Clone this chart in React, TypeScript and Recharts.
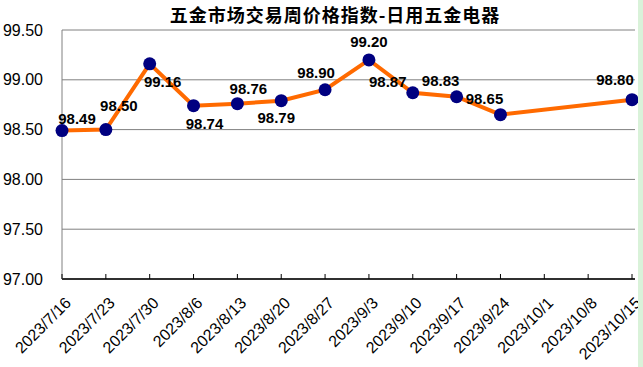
import {
  LineChart,
  Line,
  XAxis,
  YAxis,
  CartesianGrid,
  LabelList,
} from "recharts";

const title = "五金市场交易周价格指数-日用五金电器";

const weeks = [
  "2023/7/16",
  "2023/7/23",
  "2023/7/30",
  "2023/8/6",
  "2023/8/13",
  "2023/8/20",
  "2023/8/27",
  "2023/9/3",
  "2023/9/10",
  "2023/9/17",
  "2023/9/24",
  "2023/10/1",
  "2023/10/8",
  "2023/10/15",
];

const priceIndex: (number | null)[] = [
  98.49, 98.5, 99.16, 98.74, 98.76, 98.79, 98.9, 99.2, 98.87, 98.83, 98.65,
  null, null, 98.8,
];

const yTicks = [97, 97.5, 98, 98.5, 99, 99.5];

// where each value label sits relative to its point
const labelDx = [15, 13, 13, 11, 11, -5, -9, 0, -25, -16, -16, 0, 0, -17];
const labelDy = [-12, -24, 18, 18, -15, 17, -17, -18, -11, -16, -16, 0, 0, -20];

const data = weeks.map((w, i) => ({ week: w, value: priceIndex[i] }));

const DateTick = (props: any) => {
  const { x, y, payload } = props;
  const ax = x + 10;
  const ay = y + 25;
  return (
    <g>
      <line x1={x} y1={y - 5} x2={x} y2={y} stroke="#000" />
      <text
        x={ax}
        y={ay}
        transform={`rotate(-45 ${ax} ${ay})`}
        textAnchor="end"
        fontSize={16}
        fontFamily="Liberation Sans, Arial, sans-serif"
        fill="#000"
      >
        {payload.value}
      </text>
    </g>
  );
};

const ValueLabel = (props: any) => {
  const { x, y, value, index } = props;
  if (value == null) return null;
  return (
    <text
      x={x + labelDx[index]}
      y={y + labelDy[index]}
      textAnchor="middle"
      dominantBaseline="central"
      fontSize={15}
      fontWeight="bold"
      fontFamily="Liberation Sans, Arial, sans-serif"
      fill="#000"
    >
      {Number(value).toFixed(2)}
    </text>
  );
};

export default function App() {
  return (
    <div
      style={{
        position: "absolute",
        left: 0,
        top: 0,
        width: 643,
        height: 367,
        background: "#d9f2d9",
      }}
    >
      <div
        style={{
          position: "absolute",
          left: 0,
          top: 0,
          width: 638,
          height: 367,
          background: "#fff",
        }}
      />
      <div
        style={{
          position: "absolute",
          left: 0,
          top: 3,
          width: 670,
          textAlign: "center",
          fontFamily: "Noto Sans CJK SC, sans-serif",
          fontWeight: "bold",
          fontSize: 18,
          letterSpacing: 1,
          lineHeight: "22px",
          color: "#000",
        }}
      >
        {title}
      </div>
      <div style={{ position: "absolute", left: 0, top: 0 }}>
        <LineChart
          width={638}
          height={367}
          data={data}
          margin={{ top: 30, right: 3, bottom: 8, left: 0 }}
        >
          <CartesianGrid vertical={false} stroke="#808080" strokeWidth={1} />
          <XAxis
            dataKey="week"
            interval={0}
            height={80}
            tickSize={0}
            tickMargin={0}
            tick={<DateTick />}
            axisLine={{ stroke: "#000", strokeWidth: 1.5 }}
            padding={{ left: 0, right: 3 }}
          />
          <YAxis
            domain={[97, 99.5]}
            ticks={yTicks}
            width={62}
            tickLine={false}
            tickMargin={13}
            axisLine={{ stroke: "#808080" }}
            tickFormatter={(v: number) => v.toFixed(2)}
            tick={{
              fill: "#000",
              fontSize: 16,
              fontFamily: "Liberation Sans, Arial, sans-serif",
            }}
          />
          <Line
            type="linear"
            dataKey="value"
            stroke="#ff6a00"
            strokeWidth={4}
            connectNulls
            dot={{ r: 6.5, fill: "#000080", stroke: "#000080", strokeWidth: 0 }}
            isAnimationActive={false}
          >
            <LabelList dataKey="value" content={<ValueLabel />} />
          </Line>
        </LineChart>
      </div>
    </div>
  );
}
